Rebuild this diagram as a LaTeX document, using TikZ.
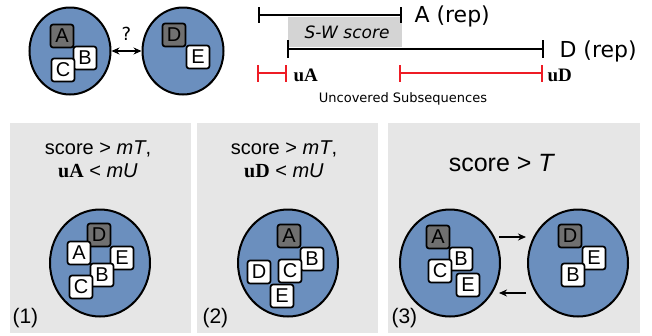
\documentclass[tikz,border=0pt]{standalone}
\usepackage{fontspec}
\setmainfont{Liberation Sans}
\newfontfamily\dvs{DejaVu Sans}
\newfontfamily\tms{Liberation Serif}
\usetikzlibrary{shapes,arrows.meta}
\definecolor{grpblue}{HTML}{6B8FBE}
\definecolor{boxdark}{HTML}{707070}
\definecolor{panelgray}{HTML}{E6E6E6}
\definecolor{swgray}{HTML}{D4D4D4}
\definecolor{ured}{HTML}{EE1C25}
\tikzstyle{grp}=[ellipse,draw=black,line width=2pt,fill=grpblue,minimum width=100pt,minimum height=107pt,inner sep=0pt]
\tikzstyle{bx}=[rectangle,draw=black,line width=1.7pt,rounded corners=2.5pt,fill=white,minimum size=23pt,inner sep=0pt,font=\fontsize{20}{20}\selectfont]
\tikzstyle{dbx}=[bx,fill=boxdark]
\tikzstyle{cond}=[align=center,font=\fontsize{20}{23}\selectfont]
\tikzstyle{num}=[anchor=west,font=\fontsize{21}{21}\selectfont]
\tikzstyle{bar}=[line width=1.3pt]
\tikzstyle{mv}=[line width=1.6pt,>={Stealth[length=8pt,width=7pt]}]
\newcommand{\ubold}[1]{{\tms\bfseries #1}}

\begin{document}
\begin{tikzpicture}[x=1pt,y=-1pt]
\useasboundingbox (0,0) rectangle (652,335);
% top left: two groups
\node[grp,minimum width=81pt,minimum height=87pt] (ga) at (70,51) {};
\node[grp,minimum width=81pt,minimum height=87pt] (gd) at (183,51) {};
\node[dbx] (ta) at (62,36) {A};
\node[bx] (tb) at (85,58) {B};
\node[bx] (tc) at (63,70) {C};
\node[dbx] (td) at (174,35) {D};
\node[bx] (te) at (198,57) {E};
\draw[mv,<->] (ga.east) -- (gd.west) node[midway,above=6pt,font=\dvs\fontsize{18}{18}\selectfont] {?};
% top right: alignment bars
\fill[swgray] (288,17) rectangle (402,47);
\node[font=\dvs\itshape\fontsize{17}{17}\selectfont] (sw) at (347,32) {S-W score};
\draw[bar] (259,15) -- (401,15);
\draw[bar] (259,7) -- (259,23);
\draw[bar] (401,7) -- (401,23);
\node[anchor=west,font=\dvs\fontsize{22}{22}\selectfont] (la) at (411,16) {A (rep)};
\draw[bar] (288,49) -- (543,49);
\draw[bar] (288,40) -- (288,58);
\draw[bar] (543,40) -- (543,58);
\node[anchor=west,font=\dvs\fontsize{22}{22}\selectfont] (ld) at (556,51) {D (rep)};
\draw[bar,ured] (258,73) -- (286,73);
\draw[bar,ured] (258,65) -- (258,82);
\draw[bar,ured] (286,65) -- (286,82);
\node[anchor=west,font=\tms\bfseries\fontsize{19}{19}\selectfont] (lua) at (290,75) {uA};
\draw[bar,ured] (400,73) -- (542,73);
\draw[bar,ured] (400,65) -- (400,82);
\draw[bar,ured] (542,65) -- (542,82);
\node[anchor=west,font=\tms\bfseries\fontsize{19}{19}\selectfont] (lud) at (544,75) {uD};
\node[font=\dvs\fontsize{13}{13}\selectfont] (unc) at (403,99) {Uncovered Subsequences};
% bottom panels
\fill[panelgray] (10,123) rectangle (191,333);
\fill[panelgray] (197,123) rectangle (378,333);
\fill[panelgray] (388,123) rectangle (640,333);
% panel (1)
\node[cond] (c1) at (98,159) {score > \textit{mT},\\\ubold{uA} < \textit{mU}};
\node[grp] (g1) at (100,263) {};
\node[dbx] (p1d) at (99,235) {D};
\node[bx] (p1a) at (79,253) {A};
\node[bx] (p1e) at (122,258) {E};
\node[bx] (p1b) at (102,275) {B};
\node[bx] (p1c) at (81,287) {C};
\node[num] (n1) at (9,318) {(1)};
% panel (2)
\node[cond] (c2) at (284,159) {score > \textit{mT},\\\ubold{uD} < \textit{mU}};
\node[grp] (g2) at (288,263) {};
\node[dbx] (p2a) at (289,236) {A};
\node[bx] (p2b) at (312,259) {B};
\node[bx] (p2c) at (290,271) {C};
\node[bx] (p2d) at (259,272) {D};
\node[bx] (p2e) at (282,296) {E};
\node[num] (n2) at (199,318) {(2)};
% panel (3)
\node[font=\fontsize{25}{25}\selectfont] (c3) at (502,163) {score > \textit{T}};
\node[grp] (g3a) at (450,263) {};
\node[grp] (g3b) at (578,263) {};
\node[dbx] (p3a) at (438,237) {A};
\node[bx] (p3b) at (461,259) {B};
\node[bx] (p3c) at (440,271) {C};
\node[bx] (p3e) at (468,285) {E};
\node[dbx] (q3d) at (570,236) {D};
\node[bx] (q3e) at (594,258) {E};
\node[bx] (q3b) at (573,275) {B};
\draw[mv,->,shorten <=-2pt,shorten >=1pt] ([yshift=26pt]g3a.east) -- ([yshift=26pt]g3b.west);
\draw[mv,->,shorten <=1pt,shorten >=-2pt] ([yshift=-30pt]g3b.west) -- ([yshift=-30pt]g3a.east);
\node[num] (n3) at (388,318) {(3)};
\end{tikzpicture}
\end{document}
